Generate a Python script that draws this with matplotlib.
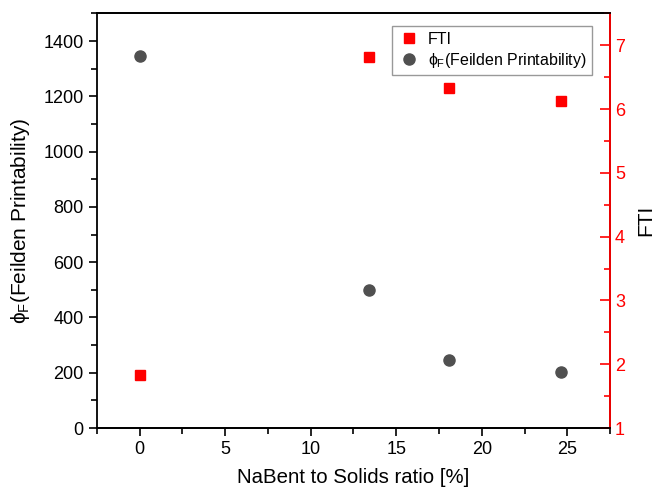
import matplotlib
matplotlib.use("Agg")
import matplotlib.pyplot as plt
from matplotlib.ticker import MultipleLocator

plt.rcParams['font.family'] = ['Liberation Sans', 'DejaVu Sans']
plt.rcParams['mathtext.fontset'] = 'custom'
plt.rcParams['mathtext.rm'] = 'Liberation Sans'
plt.rcParams['mathtext.it'] = 'Liberation Sans'

# data
ratio = [0, 13.4, 18.1, 24.6]
phi_f = [1345, 500, 246, 202]
fti = [1.83, 6.81, 6.33, 6.13]

fig = plt.figure(figsize=(6.54, 4.92), dpi=100)
ax = fig.add_axes([0.148, 0.130, 0.785, 0.8426])
ax2 = ax.twinx()

h_phi, = ax.plot(ratio, phi_f, 'o', color='#505050', markersize=8, linestyle='none',
                 label=r'$\phi_\mathregular{F}$(Feilden Printability)')
h_fti, = ax2.plot(ratio, fti, 's', color='red', markersize=7.5, linestyle='none', label='FTI')

ax.set_xlim(-2.5, 27.5)
ax.set_ylim(0, 1500)
ax2.set_ylim(1, 7.5)

ax.xaxis.set_major_locator(MultipleLocator(5))
ax.xaxis.set_minor_locator(MultipleLocator(2.5))
ax.yaxis.set_major_locator(MultipleLocator(200))
ax.yaxis.set_minor_locator(MultipleLocator(100))
ax2.yaxis.set_major_locator(MultipleLocator(1))
ax2.yaxis.set_minor_locator(MultipleLocator(0.5))

# bottom/left ticks outward
ax.tick_params(axis='x', which='both', direction='out', labelsize=13, width=1.2)
ax.tick_params(axis='x', which='major', length=6)
ax.tick_params(axis='x', which='minor', length=4)
ax.tick_params(axis='y', which='both', direction='out', labelsize=13, width=1.2)
ax.tick_params(axis='y', which='major', length=6)
ax.tick_params(axis='y', which='minor', length=4)

# top ticks inward, drawn through the twin's shared x axis
ax2.tick_params(axis='x', which='both', top=True, bottom=False, labeltop=False,
                labelbottom=False, direction='in', width=1.2)
ax2.tick_params(axis='x', which='major', length=6)
ax2.tick_params(axis='x', which='minor', length=4)

ax2.tick_params(axis='y', which='both', direction='in', colors='red', labelsize=13, width=1.2)
ax2.tick_params(axis='y', which='major', length=7)
ax2.tick_params(axis='y', which='minor', length=4)

for s in ax.spines.values():
    s.set_linewidth(1.3)
for s in ax2.spines.values():
    s.set_linewidth(1.3)
ax2.spines['right'].set_color('red')
ax2.spines['left'].set_visible(False)

ax.set_xlabel('NaBent to Solids ratio [%]', fontsize=14.7, labelpad=7)
ax.set_ylabel(r'$\phi_\mathregular{F}$(Feilden Printability)', fontsize=15, labelpad=8)
ax2.set_ylabel('FTI', fontsize=15, labelpad=8)

leg = ax2.legend(handles=[h_fti, h_phi], loc='upper right', bbox_to_anchor=(0.965, 0.97),
                 borderaxespad=0, fontsize=11.5, frameon=True, fancybox=False,
                 edgecolor='#808080', handlelength=1.4, handletextpad=0.5,
                 borderpad=0.35, labelspacing=0.25)
leg.get_frame().set_linewidth(1.0)

fig.savefig('out.png', dpi=100)
